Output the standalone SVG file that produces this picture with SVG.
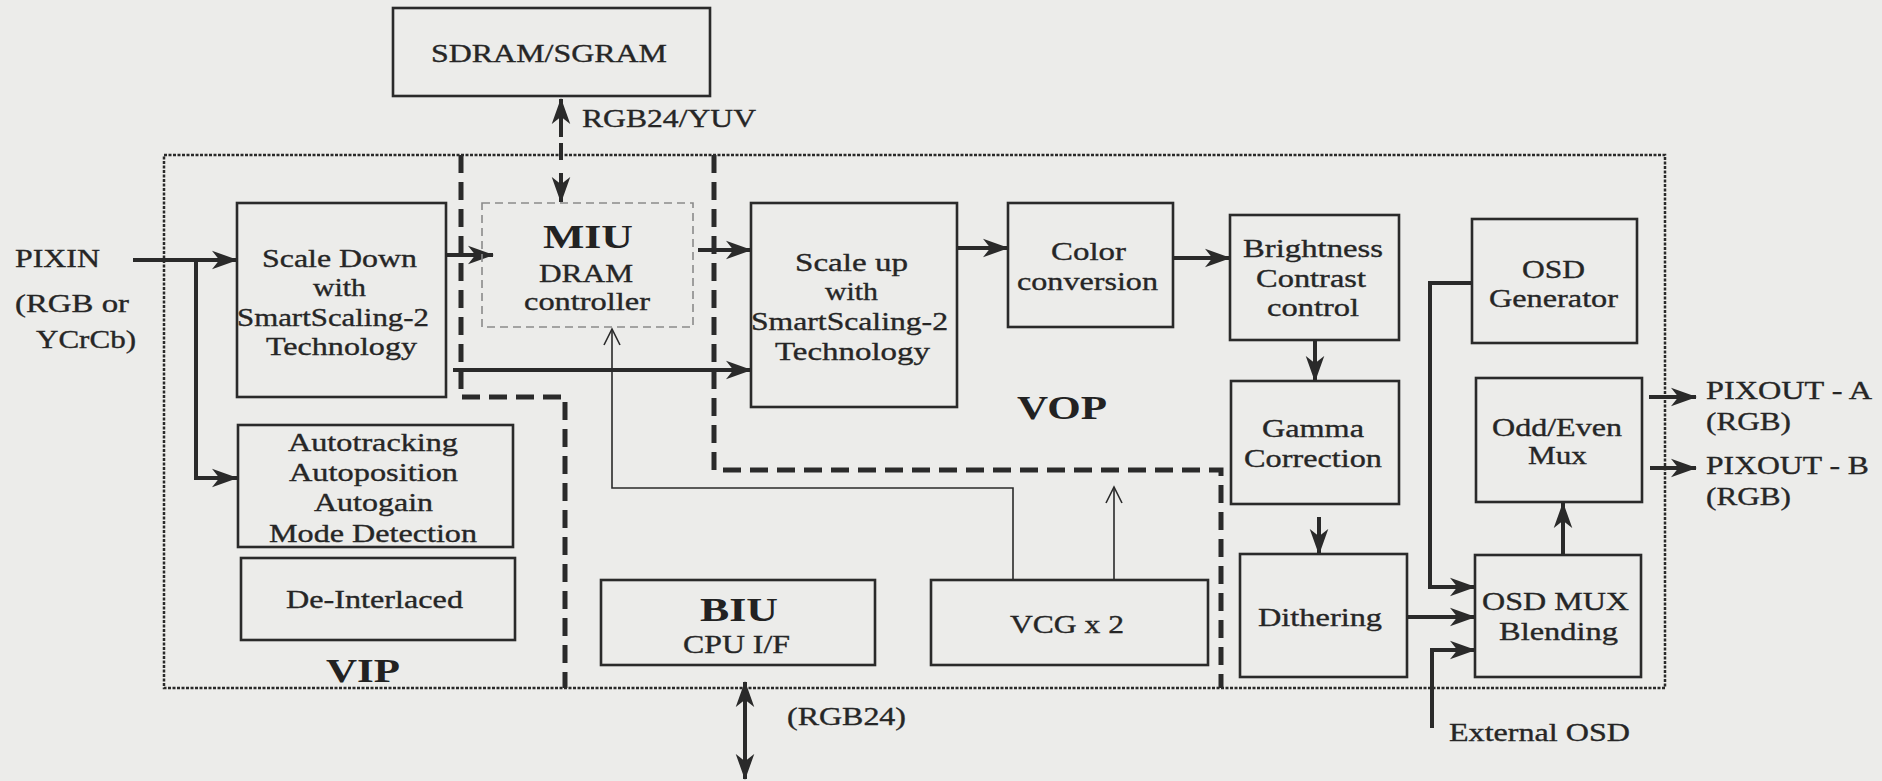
<svg xmlns="http://www.w3.org/2000/svg" width="1882" height="781" viewBox="0 0 1882 781">
<defs>
<style>
.bx{fill:none;stroke:#2a2a2a;stroke-width:2.6}
.t{font-family:"Liberation Serif","Times New Roman",serif;font-size:25.5px;fill:#262626;stroke:#262626;stroke-width:0.35}
.b{font-family:"Liberation Serif","Times New Roman",serif;font-size:33px;font-weight:bold;fill:#222}
.ar{fill:none;stroke:#2a2a2a;stroke-width:4}
.thin{fill:none;stroke:#2a2a2a;stroke-width:1.6}
.region{fill:none;stroke:#2a2a2a;stroke-width:5;stroke-dasharray:18 9}
</style>
<marker id="ah" viewBox="0 0 14 10" refX="13.5" refY="5" markerWidth="6.5" markerHeight="5" orient="auto" markerUnits="strokeWidth">
<path d="M0,0 L14,5 L0,10 L4,5 z" fill="#2a2a2a"/>
</marker>
<marker id="ahs" viewBox="0 0 14 10" refX="13.5" refY="5" markerWidth="6.5" markerHeight="5" orient="auto-start-reverse" markerUnits="strokeWidth">
<path d="M0,0 L14,5 L0,10 L4,5 z" fill="#2a2a2a"/>
</marker>
<marker id="ahm" viewBox="0 0 14 10" refX="13.5" refY="5" markerWidth="6.5" markerHeight="5" orient="auto" markerUnits="strokeWidth">
<path d="M0,0 L14,5 L0,10 L4,5 z" fill="#2a2a2a"/>
</marker>
<marker id="open" viewBox="0 0 12 12" refX="11" refY="6" markerWidth="12" markerHeight="12" orient="auto" markerUnits="strokeWidth">
<path d="M1,1 L11,6 L1,11" fill="none" stroke="#2a2a2a" stroke-width="1"/>
</marker>
</defs>
<rect width="1882" height="781" fill="#ececea"/>

<g id="regions">
<rect x="164" y="155" width="1501" height="533" fill="none" stroke="#2a2a2a" stroke-width="2.5" stroke-dasharray="3 1.5"/>
<path class="region" d="M461,155 V397 H565 V688"/>
<path class="region" d="M714,155 V470 H1221 V688"/>
<text class="b" x="326" y="682" textLength="74" lengthAdjust="spacingAndGlyphs">VIP</text>
<text class="b" x="1017" y="419" textLength="90" lengthAdjust="spacingAndGlyphs">VOP</text>
</g>

<g id="connectors">
<path class="ar" d="M561,99 V202" stroke-dasharray="38 6 17 13 30" marker-start="url(#ahs)" marker-end="url(#ah)"/>
<path class="ar" d="M133,260 H237" marker-end="url(#ah)"/>
<path class="ar" d="M196,260 V478 H237" stroke-width="3.2" marker-end="url(#ahm)"/>
<path class="ar" d="M446,255 H493" marker-end="url(#ah)"/>
<path class="ar" d="M453,370 H751" marker-end="url(#ah)"/>
<path class="ar" d="M698,250 H751" marker-end="url(#ah)"/>
<path class="ar" d="M957,248 H1008" marker-end="url(#ah)"/>
<path class="ar" d="M1173,258 H1230" marker-end="url(#ah)"/>
<path class="ar" d="M1315,340 V381" marker-end="url(#ah)"/>
<path class="ar" d="M1319,517 V554" marker-end="url(#ah)"/>
<path class="ar" d="M1472,283 H1430 V587 H1475" stroke-width="3.6" marker-end="url(#ahm)"/>
<path class="ar" d="M1406,617 H1475" marker-end="url(#ah)"/>
<path class="ar" d="M1432,728 V650 H1475" stroke-width="3.6" marker-end="url(#ahm)"/>
<path class="ar" d="M1563,555 V503" marker-end="url(#ah)"/>
<path class="ar" d="M1649,397 H1696" stroke-width="3.4" marker-end="url(#ahm)"/>
<path class="ar" d="M1650,468 H1696" stroke-width="3.4" marker-end="url(#ahm)"/>
<path class="ar" d="M745,682 V779" marker-start="url(#ahs)" marker-end="url(#ah)"/>
<path class="thin" d="M1013,580 V488 H612 V329" marker-end="url(#open)"/>
<path class="thin" d="M1114,580 V487" marker-end="url(#open)"/>
<text class="t" x="582" y="127" textLength="174" lengthAdjust="spacingAndGlyphs">RGB24/YUV</text>
<text class="t" x="787" y="725" textLength="119" lengthAdjust="spacingAndGlyphs">(RGB24)</text>
<text class="t" x="15" y="267" textLength="85" lengthAdjust="spacingAndGlyphs">PIXIN</text>
<text class="t" x="15" y="312" textLength="114" lengthAdjust="spacingAndGlyphs">(RGB or</text>
<text class="t" x="36" y="348" textLength="100" lengthAdjust="spacingAndGlyphs">YCrCb)</text>
<text class="t" x="1706" y="399" textLength="166" lengthAdjust="spacingAndGlyphs">PIXOUT - A</text>
<text class="t" x="1706" y="430" textLength="85" lengthAdjust="spacingAndGlyphs">(RGB)</text>
<text class="t" x="1706" y="474" textLength="163" lengthAdjust="spacingAndGlyphs">PIXOUT - B</text>
<text class="t" x="1706" y="505" textLength="85" lengthAdjust="spacingAndGlyphs">(RGB)</text>
<text class="t" x="1449" y="741" textLength="181" lengthAdjust="spacingAndGlyphs">External OSD</text>
</g>

<g id="sdram">
<rect class="bx" x="393" y="8" width="317" height="88"/>
<text class="t" x="431" y="62" textLength="236" lengthAdjust="spacingAndGlyphs">SDRAM/SGRAM</text>
</g>

<g id="scaledown">
<rect class="bx" x="237" y="203" width="209" height="194"/>
<text class="t" x="262" y="267" textLength="155" lengthAdjust="spacingAndGlyphs">Scale Down</text>
<text class="t" x="313" y="296" textLength="53" lengthAdjust="spacingAndGlyphs">with</text>
<text class="t" x="237" y="326" textLength="192" lengthAdjust="spacingAndGlyphs">SmartScaling-2</text>
<text class="t" x="266" y="355" textLength="151" lengthAdjust="spacingAndGlyphs">Technology</text>
</g>

<g id="miu">
<rect x="482" y="203" width="211" height="124" fill="none" stroke="#8a8a8a" stroke-width="1.6" stroke-dasharray="8 5"/>
<text class="b" x="543" y="248" textLength="90" lengthAdjust="spacingAndGlyphs">MIU</text>
<text class="t" x="539" y="282" textLength="94" lengthAdjust="spacingAndGlyphs">DRAM</text>
<text class="t" x="524" y="310" textLength="126" lengthAdjust="spacingAndGlyphs">controller</text>
</g>

<g id="scaleup">
<rect class="bx" x="751" y="203" width="206" height="204"/>
<text class="t" x="795" y="271" textLength="113" lengthAdjust="spacingAndGlyphs">Scale up</text>
<text class="t" x="825" y="300" textLength="53" lengthAdjust="spacingAndGlyphs">with</text>
<text class="t" x="751" y="330" textLength="197" lengthAdjust="spacingAndGlyphs">SmartScaling-2</text>
<text class="t" x="775" y="360" textLength="155" lengthAdjust="spacingAndGlyphs">Technology</text>
</g>

<g id="color">
<rect class="bx" x="1008" y="203" width="165" height="124"/>
<text class="t" x="1051" y="260" textLength="75" lengthAdjust="spacingAndGlyphs">Color</text>
<text class="t" x="1017" y="290" textLength="141" lengthAdjust="spacingAndGlyphs">conversion</text>
</g>

<g id="brightness">
<rect class="bx" x="1230" y="215" width="169" height="125"/>
<text class="t" x="1243" y="257" textLength="140" lengthAdjust="spacingAndGlyphs">Brightness</text>
<text class="t" x="1256" y="287" textLength="110" lengthAdjust="spacingAndGlyphs">Contrast</text>
<text class="t" x="1267" y="316" textLength="92" lengthAdjust="spacingAndGlyphs">control</text>
</g>

<g id="gamma">
<rect class="bx" x="1231" y="381" width="168" height="123"/>
<text class="t" x="1262" y="437" textLength="102" lengthAdjust="spacingAndGlyphs">Gamma</text>
<text class="t" x="1244" y="467" textLength="138" lengthAdjust="spacingAndGlyphs">Correction</text>
</g>

<g id="dithering">
<rect class="bx" x="1240" y="554" width="167" height="123"/>
<text class="t" x="1258" y="626" textLength="124" lengthAdjust="spacingAndGlyphs">Dithering</text>
</g>

<g id="osdgen">
<rect class="bx" x="1472" y="219" width="165" height="124"/>
<text class="t" x="1522" y="278" textLength="63" lengthAdjust="spacingAndGlyphs">OSD</text>
<text class="t" x="1489" y="307" textLength="129" lengthAdjust="spacingAndGlyphs">Generator</text>
</g>

<g id="oddeven">
<rect class="bx" x="1476" y="378" width="166" height="124"/>
<text class="t" x="1492" y="436" textLength="130" lengthAdjust="spacingAndGlyphs">Odd/Even</text>
<text class="t" x="1528" y="464" textLength="59" lengthAdjust="spacingAndGlyphs">Mux</text>
</g>

<g id="osdmux">
<rect class="bx" x="1475" y="555" width="166" height="122"/>
<text class="t" x="1482" y="610" textLength="147" lengthAdjust="spacingAndGlyphs">OSD MUX</text>
<text class="t" x="1499" y="640" textLength="119" lengthAdjust="spacingAndGlyphs">Blending</text>
</g>

<g id="autotracking">
<rect class="bx" x="238" y="425" width="275" height="122"/>
<text class="t" x="288" y="451" textLength="170" lengthAdjust="spacingAndGlyphs">Autotracking</text>
<text class="t" x="289" y="481" textLength="169" lengthAdjust="spacingAndGlyphs">Autoposition</text>
<text class="t" x="314" y="511" textLength="119" lengthAdjust="spacingAndGlyphs">Autogain</text>
<text class="t" x="269" y="542" textLength="208" lengthAdjust="spacingAndGlyphs">Mode Detection</text>
</g>

<g id="deinterlaced">
<rect class="bx" x="241" y="558" width="274" height="82"/>
<text class="t" x="286" y="608" textLength="177" lengthAdjust="spacingAndGlyphs">De-Interlaced</text>
</g>

<g id="biu">
<rect class="bx" x="601" y="580" width="274" height="85"/>
<text class="b" x="700" y="621" textLength="78" lengthAdjust="spacingAndGlyphs">BIU</text>
<text class="t" x="683" y="653" textLength="107" lengthAdjust="spacingAndGlyphs">CPU I/F</text>
</g>

<g id="vcg">
<rect class="bx" x="931" y="580" width="277" height="85"/>
<text class="t" x="1010" y="633" textLength="114" lengthAdjust="spacingAndGlyphs">VCG x 2</text>
</g>
</svg>
